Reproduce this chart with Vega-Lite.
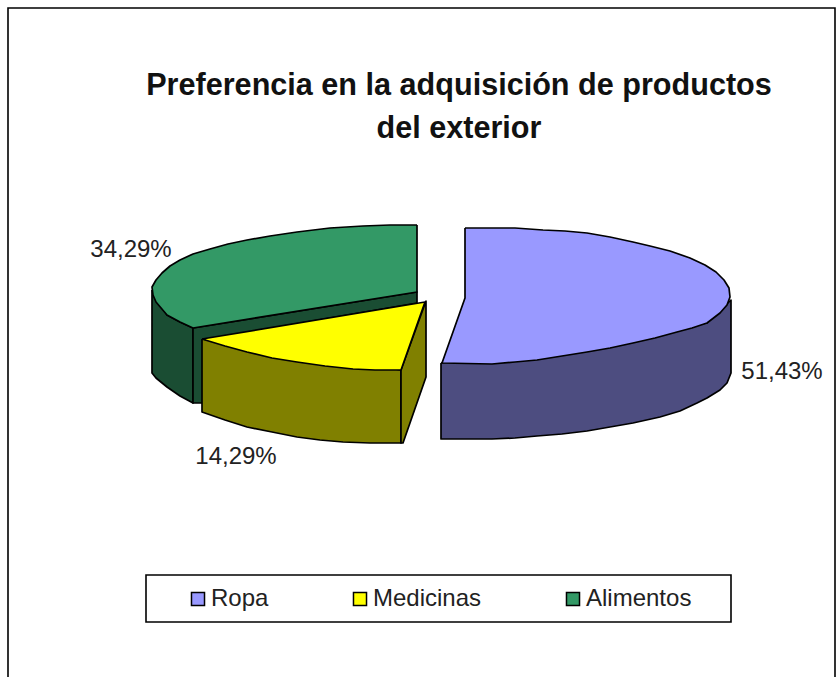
{
"$schema":"https://vega.github.io/schema/vega-lite/v6.json",
"width":838,"height":677,"autosize":"none","padding":0,"background":"white",
"title":{"text":["Preferencia en la adquisición de productos","del exterior"],"font":"Liberation Sans","fontSize":30.6,"fontWeight":"bold","color":"#111","lineHeight":43,"anchor":"middle","dx":40,"dy":145,"offset":-24,"baseline":"alphabetic"},
"config":{"view":{"stroke":null}},
"datasets":{
"frame":[{"x":8,"x2":835,"y":8,"y2":700},{"x":146,"x2":731,"y":575,"y2":622}],
"labels":[{"x":131,"y":250,"label":"34,29%"},{"x":782,"y":372,"label":"51,43%"},{"x":236,"y":457,"label":"14,29%"}],
"faces":[
{"face":"Alimentos lateral","n":1,"x":152,"y":290},{"face":"Alimentos lateral","n":2,"x":152,"y":373},{"face":"Alimentos lateral","n":3,"x":156,"y":378},{"face":"Alimentos lateral","n":4,"x":167,"y":387},{"face":"Alimentos lateral","n":5,"x":180,"y":396},{"face":"Alimentos lateral","n":6,"x":193,"y":403},{"face":"Alimentos lateral","n":7,"x":193,"y":328},{"face":"Alimentos lateral","n":8,"x":180,"y":322},{"face":"Alimentos lateral","n":9,"x":167,"y":315},{"face":"Alimentos lateral","n":10,"x":152,"y":290},
{"face":"Alimentos interior","n":1,"x":193,"y":328},{"face":"Alimentos interior","n":2,"x":193,"y":403},{"face":"Alimentos interior","n":3,"x":203,"y":403},{"face":"Alimentos interior","n":4,"x":203,"y":340},{"face":"Alimentos interior","n":5,"x":417,"y":303},{"face":"Alimentos interior","n":6,"x":417,"y":292},{"face":"Alimentos interior","n":7,"x":193,"y":328},
{"face":"Alimentos","n":1,"x":417,"y":225},{"face":"Alimentos","n":2,"x":417,"y":292},{"face":"Alimentos","n":3,"x":193,"y":328},{"face":"Alimentos","n":4,"x":180,"y":322},{"face":"Alimentos","n":5,"x":167,"y":315},{"face":"Alimentos","n":6,"x":156,"y":302},{"face":"Alimentos","n":7,"x":153,"y":295},{"face":"Alimentos","n":8,"x":152,"y":287},{"face":"Alimentos","n":9,"x":156,"y":280},{"face":"Alimentos","n":10,"x":162,"y":273},{"face":"Alimentos","n":11,"x":170,"y":266},{"face":"Alimentos","n":12,"x":180,"y":260},{"face":"Alimentos","n":13,"x":193,"y":254},{"face":"Alimentos","n":14,"x":210,"y":249},{"face":"Alimentos","n":15,"x":228,"y":244},{"face":"Alimentos","n":16,"x":247,"y":240},{"face":"Alimentos","n":17,"x":270,"y":236},{"face":"Alimentos","n":18,"x":297,"y":232},{"face":"Alimentos","n":19,"x":330,"y":228},{"face":"Alimentos","n":20,"x":363,"y":226},{"face":"Alimentos","n":21,"x":390,"y":225},{"face":"Alimentos","n":22,"x":417,"y":225},
{"face":"Medicinas lateral","n":1,"x":202,"y":339},{"face":"Medicinas lateral","n":2,"x":202,"y":412},{"face":"Medicinas lateral","n":3,"x":225,"y":420},{"face":"Medicinas lateral","n":4,"x":247,"y":427},{"face":"Medicinas lateral","n":5,"x":272,"y":432},{"face":"Medicinas lateral","n":6,"x":297,"y":437},{"face":"Medicinas lateral","n":7,"x":320,"y":440},{"face":"Medicinas lateral","n":8,"x":343,"y":442},{"face":"Medicinas lateral","n":9,"x":370,"y":443},{"face":"Medicinas lateral","n":10,"x":401,"y":443},{"face":"Medicinas lateral","n":11,"x":401,"y":370},{"face":"Medicinas lateral","n":12,"x":202,"y":339},
{"face":"Medicinas interior","n":1,"x":401,"y":370},{"face":"Medicinas interior","n":2,"x":401,"y":443},{"face":"Medicinas interior","n":3,"x":403,"y":443},{"face":"Medicinas interior","n":4,"x":426,"y":377},{"face":"Medicinas interior","n":5,"x":426,"y":301},{"face":"Medicinas interior","n":6,"x":401,"y":370},
{"face":"Medicinas","n":1,"x":202,"y":339},{"face":"Medicinas","n":2,"x":225,"y":346},{"face":"Medicinas","n":3,"x":247,"y":352},{"face":"Medicinas","n":4,"x":272,"y":358},{"face":"Medicinas","n":5,"x":297,"y":362},{"face":"Medicinas","n":6,"x":325,"y":366},{"face":"Medicinas","n":7,"x":353,"y":369},{"face":"Medicinas","n":8,"x":375,"y":370},{"face":"Medicinas","n":9,"x":401,"y":370},{"face":"Medicinas","n":10,"x":425,"y":302},{"face":"Medicinas","n":11,"x":202,"y":339},
{"face":"Ropa lateral","n":1,"x":441,"y":363},{"face":"Ropa lateral","n":2,"x":441,"y":439},{"face":"Ropa lateral","n":3,"x":492,"y":439},{"face":"Ropa lateral","n":4,"x":515,"y":438},{"face":"Ropa lateral","n":5,"x":537,"y":436},{"face":"Ropa lateral","n":6,"x":562,"y":434},{"face":"Ropa lateral","n":7,"x":587,"y":431},{"face":"Ropa lateral","n":8,"x":610,"y":427},{"face":"Ropa lateral","n":9,"x":633,"y":423},{"face":"Ropa lateral","n":10,"x":660,"y":417},{"face":"Ropa lateral","n":11,"x":680,"y":411},{"face":"Ropa lateral","n":12,"x":697,"y":403},{"face":"Ropa lateral","n":13,"x":707,"y":398},{"face":"Ropa lateral","n":14,"x":720,"y":390},{"face":"Ropa lateral","n":15,"x":727,"y":383},{"face":"Ropa lateral","n":16,"x":731,"y":373},{"face":"Ropa lateral","n":17,"x":731,"y":300},{"face":"Ropa lateral","n":18,"x":707,"y":323},{"face":"Ropa lateral","n":19,"x":441,"y":363},
{"face":"Ropa","n":1,"x":465,"y":228},{"face":"Ropa","n":2,"x":465,"y":298},{"face":"Ropa","n":3,"x":442,"y":363},{"face":"Ropa","n":4,"x":492,"y":364},{"face":"Ropa","n":5,"x":515,"y":362},{"face":"Ropa","n":6,"x":537,"y":360},{"face":"Ropa","n":7,"x":562,"y":356},{"face":"Ropa","n":8,"x":587,"y":352},{"face":"Ropa","n":9,"x":610,"y":348},{"face":"Ropa","n":10,"x":633,"y":343},{"face":"Ropa","n":11,"x":655,"y":338},{"face":"Ropa","n":12,"x":677,"y":332},{"face":"Ropa","n":13,"x":692,"y":328},{"face":"Ropa","n":14,"x":707,"y":323},{"face":"Ropa","n":15,"x":720,"y":313},{"face":"Ropa","n":16,"x":727,"y":305},{"face":"Ropa","n":17,"x":730,"y":297},{"face":"Ropa","n":18,"x":729,"y":288},{"face":"Ropa","n":19,"x":724,"y":280},{"face":"Ropa","n":20,"x":716,"y":272},{"face":"Ropa","n":21,"x":705,"y":265},{"face":"Ropa","n":22,"x":690,"y":258},{"face":"Ropa","n":23,"x":670,"y":251},{"face":"Ropa","n":24,"x":650,"y":246},{"face":"Ropa","n":25,"x":633,"y":242},{"face":"Ropa","n":26,"x":610,"y":237},{"face":"Ropa","n":27,"x":587,"y":233},{"face":"Ropa","n":28,"x":565,"y":231},{"face":"Ropa","n":29,"x":543,"y":230},{"face":"Ropa","n":30,"x":515,"y":228},{"face":"Ropa","n":31,"x":465,"y":228}
]},
"layer":[
{"data":{"name":"frame"},"mark":{"type":"rect","fill":"white","stroke":"black","strokeWidth":1.6,"clip":true},
"encoding":{"x":{"field":"x","type":"quantitative","scale":{"domain":[0,838],"nice":false,"zero":false},"axis":null},"x2":{"field":"x2"},"y":{"field":"y","type":"quantitative","scale":{"domain":[677,0],"nice":false,"zero":false},"axis":null},"y2":{"field":"y2"}}},
{"data":{"name":"faces"},"mark":{"type":"line","stroke":"black","strokeWidth":1.7,"interpolate":"linear","strokeJoin":"round"},
"encoding":{"x":{"field":"x","type":"quantitative","axis":null},"y":{"field":"y","type":"quantitative","axis":null},"order":{"field":"n","type":"quantitative"},
"fill":{"field":"face","type":"nominal","sort":null,"scale":{"domain":["Ropa","Medicinas","Alimentos","Ropa lateral","Medicinas lateral","Medicinas interior","Alimentos lateral","Alimentos interior"],"range":["#9999FF","#FFFF00","#339966","#4D4D80","#808000","#808000","#1A4D33","#1A4D33"]},
"legend":{"values":["Ropa","Medicinas","Alimentos"],"title":null,"orient":"none","legendX":174,"legendY":575,"direction":"horizontal","columns":3,"columnPadding":79,"padding":12,"symbolType":"square","symbolSize":170,"symbolStrokeColor":"black","symbolStrokeWidth":1.5,"labelFont":"Liberation Sans","labelFontSize":24,"labelColor":"#222","labelOffset":1}}}},
{"data":{"name":"labels"},"mark":{"type":"text","font":"Liberation Sans","fontSize":24,"color":"#222","align":"center","baseline":"middle"},
"encoding":{"x":{"field":"x","type":"quantitative","axis":null},"y":{"field":"y","type":"quantitative","axis":null},"text":{"field":"label"}}}
]
}
